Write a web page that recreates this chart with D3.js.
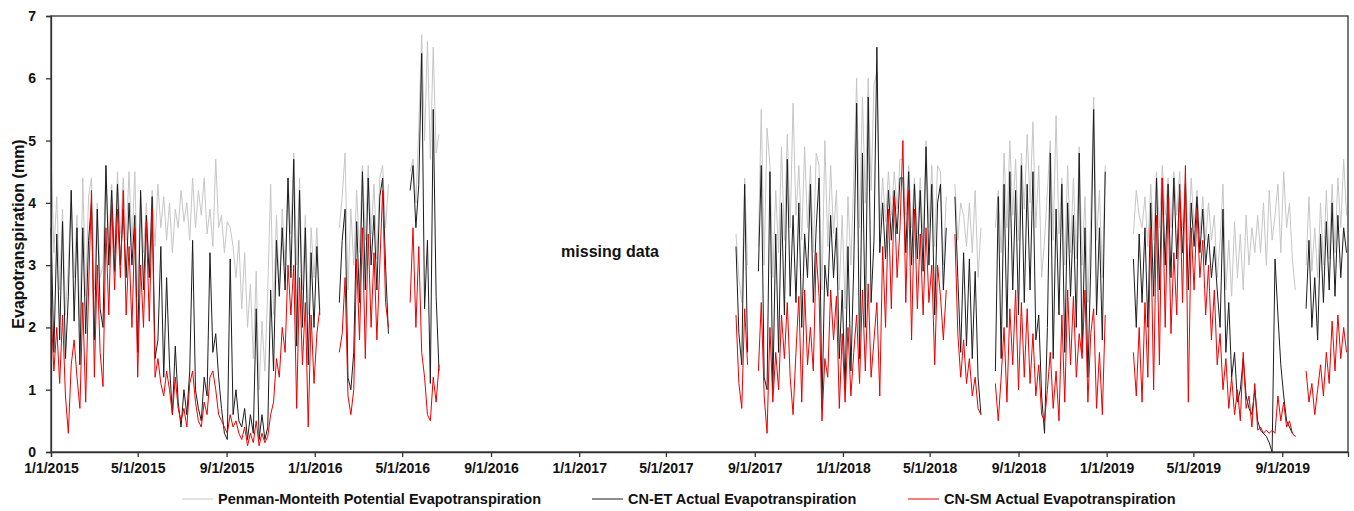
<!DOCTYPE html>
<html>
<head>
<meta charset="utf-8">
<script src="https://cdn.jsdelivr.net/npm/d3@7"></script>
<style>
body { margin: 0; background: #fff; }
text { font-family: "Liberation Sans", Arial, sans-serif; font-weight: bold; fill: #111; }
</style>
</head>
<body>
<div id="main"></div>
<script>
// start date of each block of records; values are every 4 days from there
const segStarts = ["2015-01-01", "2016-02-04", "2016-05-12", "2017-08-06", "2017-09-06",
                   "2018-06-05", "2018-07-31", "2019-02-07", "2019-10-04"];
const stepDays = 4;

// Penman-Monteith potential ET (mm)
const pmSegs = [
  [4.8,3.2,4.1,2.6,3.9,2.2,3.0,4.2,2.8,3.8, 2.0,4.4,2.5,4.1,4.4,2.6,4.0,2.8,3.0,4.6,
   3.4,4.3,3.2,4.5,3.5,4.4,3.4,4.5,3.3,4.5, 2.5,4.2,3.2,4.0,3.0,4.2,3.3,4.3,3.6,4.1,
   3.4,4.0,3.2,3.9,3.6,4.2,3.7,4.0,3.4,4.4, 3.6,4.2,3.8,4.4,3.5,3.9,3.3,4.7,3.6,3.8,
   3.2,3.7,3.6,3.3,2.8,3.4,2.3,3.2,2.0,2.7, 1.5,2.9,1.0,2.1,1.3,2.6,4.3,2.2,3.8,2.6,
   3.9,3.0,4.4,3.5,4.8,3.0,4.4,2.6,3.8,2.2, 3.6,2.8,3.6,2.3],
  [3.6,4.1,4.8,2.6,3.9,3.0,4.2,3.2,4.6,3.4,4.6,3.5,4.3,3.1,4.4,4.6,3.6,4.3],
  [4.5,4.7,4.0,5.2,6.7,5.0,6.6,4.7,6.5,4.8,5.1],
  [3.5,2.8,2.4,4.4,3.0],
  [3.3,5.5,3.0,5.2,4.6,2.8,4.2,3.2,4.9,3.4, 5.1,3.6,5.6,3.8,4.6,3.4,4.9,3.6,4.6,3.2,
   4.8,4.6,2.6,5.0,3.3,4.6,3.5,4.2,2.6,3.8, 2.3,4.1,3.0,4.4,6.0,3.6,5.7,4.0,6.0,4.2,
   5.9,6.1,3.6,4.4,3.7,4.5,3.8,4.5,3.9,4.7, 4.7,3.8,4.6,3.6,4.4,3.5,4.4,3.4,5.0,3.6,
   4.6,3.3,4.6,4.5,3.0,4.1],
  [4.3,3.4,4.0,3.8,3.3,4.0,3.2,4.2,2.8,3.6],
  [3.6,4.2,3.2,4.8,3.6,5.0,3.8,4.7,3.4,4.8, 3.9,5.1,4.0,5.3,3.6,4.6,2.8,3.4,4.2,5.0,
   3.4,5.4,3.5,4.4,3.0,4.6,3.2,4.4,3.1,4.9, 3.0,4.1,2.4,3.8,5.7,3.4,4.2,2.8,4.6],
  [3.5,4.2,3.8,3.6,4.1,3.3,4.3,3.4,4.5,3.6, 4.6,3.8,4.4,3.6,4.5,3.8,4.5,3.6,4.5,3.4,
   4.4,3.6,4.2,3.5,4.1,3.4,4.0,3.4,3.8,2.8, 3.4,4.3,2.6,3.4,2.5,3.7,2.8,3.5,2.6,3.8,
   3.0,3.6,3.2,3.8,3.2,4.0,3.0,4.2,3.4,3.8, 4.3,3.2,4.5,3.6,4.0,3.1,2.6],
  [3.0,4.1,2.9,3.6,2.8,4.0,3.0,4.2,3.1,4.3,3.2,4.4,3.6,4.7,3.8]
];

// CN-ET actual ET (mm)
const etSegs = [
  [3.6,1.6,3.5,1.8,3.7,1.5,2.5,4.2,2.1,3.6, 1.4,3.6,1.9,3.4,4.0,1.8,3.9,2.3,2.0,4.6,
   3.0,4.2,2.9,4.3,3.0,3.9,2.8,4.0,3.0,3.8, 1.6,4.2,2.6,3.8,2.8,4.1,1.5,1.8,3.3,1.2,
   2.8,1.4,0.6,1.7,0.8,0.4,1.0,0.6,1.3,3.4, 1.0,0.7,0.5,1.2,0.9,3.2,1.6,1.9,1.2,0.7,
   0.3,0.2,3.1,0.6,1.0,0.5,0.4,0.7,0.2,0.6, 0.3,2.3,0.2,0.6,0.2,0.4,2.6,1.3,3.4,2.5,
   3.6,2.6,4.4,2.8,4.7,1.7,4.2,2.0,3.6,1.4, 3.2,2.0,3.3,2.2],
  [2.4,3.4,3.9,1.2,1.0,1.6,3.7,2.4,4.5,2.6,4.4,3.0,3.8,2.6,4.1,4.4,3.0,1.9],
  [4.2,4.6,3.6,4.3,6.4,2.3,3.4,1.1,5.5,2.5,1.3],
  [3.3,1.9,1.4,4.3,1.6],
  [2.9,4.6,1.2,1.0,4.5,1.0,3.5,1.6,4.0,2.2, 4.7,2.5,3.8,2.4,4.0,2.0,3.5,2.8,4.3,2.4,
   3.6,4.4,0.7,3.0,2.5,3.8,2.8,3.6,1.5,2.6, 1.0,3.3,1.3,3.0,5.6,1.5,4.8,2.0,5.7,2.4,
   3.4,6.5,3.2,4.0,3.1,4.2,3.4,4.2,3.5,4.4, 4.4,3.2,4.5,3.0,4.3,3.1,4.2,2.9,4.9,3.0,
   4.3,2.2,4.0,4.3,2.6,3.6],
  [4.1,2.8,1.6,3.2,1.7,3.1,1.5,2.9,1.2,0.6],
  [1.3,4.1,1.5,4.3,2.0,4.5,2.6,4.2,2.2,4.6, 2.4,4.3,2.6,4.5,1.8,2.2,0.9,0.3,2.0,4.8,
   1.5,3.9,2.2,4.3,1.6,4.0,2.5,3.8,2.0,4.8, 1.6,3.6,1.2,3.0,5.5,2.2,3.6,1.8,4.5],
  [3.1,2.0,3.5,2.4,3.6,2.0,4.0,2.5,4.4,2.6, 4.4,3.0,4.3,2.8,4.4,3.1,4.2,3.2,4.3,2.6,
   4.0,3.3,4.1,3.2,3.9,3.0,3.5,2.8,3.3,2.6, 2.0,3.9,1.6,2.4,1.2,1.6,0.8,1.0,1.5,0.9,
   0.7,0.6,1.0,0.5,0.35,0.3,0.25,0.15,0.0,3.1, 2.2,1.4,0.9,0.5,0.4,0.3,0.25],
  [2.3,3.4,2.0,2.8,1.8,3.5,2.4,3.7,2.6,4.0,2.5,3.8,2.8,3.6,3.2]
];

// CN-SM actual ET (mm)
const smSegs = [
  [2.3,1.3,2.0,1.1,2.2,0.9,0.3,1.4,1.8,1.2, 0.7,2.4,0.8,2.6,4.2,1.2,3.0,1.6,1.05,3.6,
   2.2,4.0,2.6,3.9,2.8,4.2,2.2,3.3,2.0,3.6, 1.2,3.0,2.0,3.7,2.1,3.9,1.2,1.5,1.1,0.9,
   1.3,1.0,0.6,1.2,0.7,0.5,0.7,0.4,1.1,1.3, 0.8,0.5,0.4,0.8,0.6,1.2,1.3,1.0,0.6,0.5,
   0.4,0.3,0.6,0.4,0.5,0.3,0.2,0.4,0.1,0.3, 0.15,0.5,0.1,0.3,0.15,0.25,0.6,0.8,1.5,1.2,
   2.0,1.6,3.0,2.2,3.0,0.7,2.8,1.4,2.4,0.4, 2.2,1.1,1.9,2.3],
  [1.6,1.9,2.8,0.9,0.6,1.0,3.1,1.8,3.6,1.5,3.5,2.0,3.2,1.8,3.0,4.2,2.4,2.0],
  [2.4,3.6,2.0,3.3,1.6,1.2,0.6,0.5,1.2,0.8,1.4],
  [2.2,1.1,0.7,2.3,1.4],
  [1.3,2.4,0.9,0.3,2.0,0.8,1.6,1.0,2.2,1.5, 2.4,1.2,0.6,1.6,2.5,0.8,2.6,1.4,2.0,1.3,
   3.2,2.5,0.5,1.5,1.2,2.6,1.8,2.5,0.7,1.9, 0.8,2.0,0.9,1.6,2.2,1.1,2.6,1.3,2.7,1.2,
   1.8,2.4,0.9,3.3,2.0,3.9,2.3,4.1,2.8,3.6, 5.0,2.4,4.2,1.8,3.9,2.3,3.5,2.2,3.6,2.4,
   3.0,1.4,3.0,2.5,1.8,2.6],
  [3.5,1.9,1.2,1.8,1.1,1.5,0.9,1.2,0.7,0.6],
  [1.1,0.5,1.2,2.0,0.8,2.3,1.4,2.6,1.0,2.4, 1.2,2.3,1.1,1.9,0.9,1.4,0.6,0.5,1.0,1.6,
   0.7,1.3,0.5,2.2,0.8,2.6,1.4,2.5,1.2,1.9, 1.5,2.6,0.8,1.9,2.3,0.7,1.6,0.6,2.2],
  [1.6,0.9,2.0,0.8,2.4,1.2,3.6,1.0,3.8,1.4, 4.4,2.0,4.1,1.9,3.2,2.2,4.3,2.4,4.6,0.8,
   3.6,2.6,3.9,2.8,3.4,2.2,3.0,1.8,2.6,1.4, 1.9,1.0,1.5,0.7,1.2,0.6,1.0,0.5,1.6,0.7,
   0.9,0.4,1.1,0.35,0.4,0.3,0.35,0.3,0.35,0.3, 0.9,0.5,0.8,0.4,0.5,0.3,0.25],
  [1.3,0.8,1.1,0.6,1.0,1.4,0.9,1.6,1.1,2.1,1.3,2.2,1.5,2.0,1.6]
];

const seriesNames = ["Penman-Monteith Potential Evapotranspiration",
                     "CN-ET Actual Evapotranspiration",
                     "CN-SM Actual Evapotranspiration"];
const seriesColors = ["#c6c6c6", "#1c1c1c", "#ee0000"];
const xDomain = ["2015-01-01", "2019-12-01"];
const yDomain = [0, 7];

const ctx = {
    w: 1354,
    h: 511,
    left: 51, right: 1348, top: 16, bottom: 452,
};

const parseDate = d3.utcParse("%Y-%m-%d");

function toPoints(segs){
    // each block -> list of {date, v}
    return segs.map(function(vals, s){
        const start = parseDate(segStarts[s]);
        return vals.map(function(v, i){
            return {date: d3.utcDay.offset(start, i * stepDays), v: v};
        });
    });
}

function createViz(){
    const svg = d3.select("#main").append("svg")
        .attr("width", ctx.w).attr("height", ctx.h);

    const x = d3.scaleUtc().domain(xDomain.map(parseDate)).range([ctx.left, ctx.right]);
    const y = d3.scaleLinear().domain(yDomain).range([ctx.bottom, ctx.top]);

    // series, grey first so red ends on top
    const line = d3.line().x(d => x(d.date)).y(d => y(d.v));
    const allSeries = [pmSegs, etSegs, smSegs];
    allSeries.forEach(function(segs, k){
        svg.append("g").selectAll("path")
            .data(toPoints(segs))
            .enter().append("path")
            .attr("d", line)
            .attr("fill", "none")
            .attr("stroke", seriesColors[k])
            .attr("stroke-width", 1);
    });

    // frame
    svg.append("rect")
        .attr("x", ctx.left).attr("y", ctx.top)
        .attr("width", ctx.right - ctx.left).attr("height", ctx.bottom - ctx.top)
        .attr("fill", "none").attr("stroke", "#333").attr("stroke-width", 1.3);

    const xAxis = d3.axisBottom(x)
        .ticks(d3.utcMonth.every(4))
        .tickFormat(d3.utcFormat("%-m/%-d/%Y"))
        .tickSize(5).tickPadding(6);
    const gx = svg.append("g").attr("transform", "translate(0," + ctx.bottom + ")").call(xAxis);

    const yAxis = d3.axisLeft(y).ticks(7).tickSize(5).tickPadding(10);
    const gy = svg.append("g").attr("transform", "translate(" + ctx.left + ",0)").call(yAxis);

    [gx, gy].forEach(function(g){
        g.select(".domain").attr("stroke", "#333").attr("stroke-width", 1.3);
        g.selectAll(".tick line").attr("stroke", "#333").attr("stroke-width", 1.3);
        g.selectAll(".tick text")
            .attr("font-family", "Liberation Sans, Arial, sans-serif")
            .attr("font-weight", "bold").attr("font-size", 14).attr("fill", "#111");
    });

    svg.append("text")
        .attr("transform", "translate(18," + ((ctx.top + ctx.bottom) / 2) + ") rotate(-90)")
        .attr("text-anchor", "middle").attr("dy", "0.35em")
        .attr("font-size", 16)
        .text("Evapotranspiration (mm)");

    svg.append("text")
        .attr("x", 610).attr("y", 251)
        .attr("text-anchor", "middle").attr("dy", "0.35em")
        .attr("font-size", 16)
        .text("missing data");

    // legend
    const legendX = [182, 592, 908];
    const legend = svg.append("g").selectAll("g")
        .data(seriesNames)
        .enter().append("g")
        .attr("transform", (d, i) => "translate(" + legendX[i] + ",499)");
    legend.append("line")
        .attr("x1", 0).attr("x2", 31)
        .attr("stroke", (d, i) => seriesColors[i]).attr("stroke-width", 1);
    legend.append("text")
        .attr("x", 36).attr("dy", "0.35em")
        .attr("font-size", 14.5)
        .text(d => d);
}

createViz();
</script>
</body>
</html>
